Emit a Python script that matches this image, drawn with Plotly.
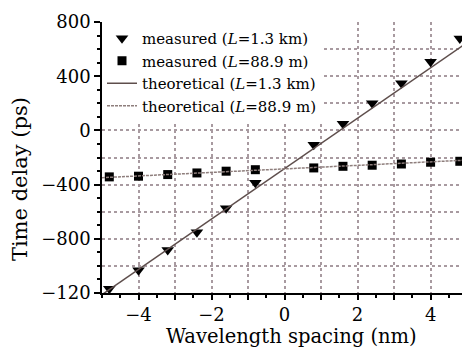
import plotly.graph_objects as go

# measured data
meas_x = [-4.8, -4.0, -3.2, -2.4, -1.6, -0.8, 0.8, 1.6, 2.4, 3.2, 4.0, 4.8]
meas_long = [-1169, -1033, -883, -751, -575, -387, -106, 49, 201, 348, 507, 679]
meas_short = [-343, -338, -326, -314, -301, -290, -277, -265, -257, -248, -235, -228]

# theoretical lines (end points)
theory_x = [-5.0, 5.0]
theory_long = [-1212, 648]
theory_short = [-349, -219]

y_tickvals = [-1200, -800, -400, 0, 400, 800]
y_ticktext = ["\u2212120", "\u2212800", "\u2212400", "0", "400", "800"]
y_gridvals = [-1000, -800, -600, -400, -200, 0, 200, 400, 600]
x_tickvals = [-4, -3, -2, -1, 0, 1, 2, 3, 4]
x_ticktext = ["\u22124", "", "\u22122", "", "0", "", "2", "", "4"]

x_title = "Wavelength spacing (nm)"
y_title = "Time delay (ps)"

FONT = "DejaVu Serif"
line_dark = "#5e4e4c"
line_light = "#8e7e7c"
grid_col = "#a89aa0"

fig = go.Figure()
fig.add_trace(go.Scatter(x=meas_x, y=meas_long, mode="markers",
                         name="measured (<i>L</i>=1.3 km)",
                         marker=dict(symbol="triangle-down", size=11, color="black"),
                         cliponaxis=False))
fig.add_trace(go.Scatter(x=meas_x, y=meas_short, mode="markers",
                         name="measured (<i>L</i>=88.9 m)",
                         marker=dict(symbol="square", size=9, color="black"),
                         cliponaxis=False))
fig.add_trace(go.Scatter(x=theory_x, y=theory_long, mode="lines",
                         name="theoretical (<i>L</i>=1.3 km)",
                         line=dict(color=line_dark, width=1.5)))
fig.add_trace(go.Scatter(x=theory_x, y=theory_short, mode="lines",
                         name="theoretical (<i>L</i>=88.9 m)",
                         line=dict(color=line_light, width=1.5, dash="3px,1px")))
# invisible trace to activate grid axis
fig.add_trace(go.Scatter(x=[None], y=[None], yaxis="y2", showlegend=False, hoverinfo="skip"))

fig.update_layout(
    width=462, height=350,
    margin=dict(l=102, r=0, t=22, b=57, autoexpand=False),
    paper_bgcolor="white", plot_bgcolor="white",
    font=dict(family=FONT, size=18, color="black"),
    showlegend=True,
    legend=dict(x=0, y=1.0, xanchor="left", yanchor="top",
                bgcolor="white", borderwidth=0,
                font=dict(family=FONT, size=15, color="black"),
                tracegroupgap=0, itemwidth=30),
    xaxis=dict(range=[-5, 4.86], tickmode="array", tickvals=x_tickvals, ticktext=x_ticktext,
               automargin=False,
               showgrid=True, gridcolor=grid_col, gridwidth=1.5, griddash="dot",
               zeroline=False, showline=True, linecolor="black", linewidth=1.5,
               ticks="outside", ticklen=5, tickwidth=1.5, tickcolor="black",
               minor=dict(dtick=0.5, tick0=0, ticks="outside", ticklen=3, tickwidth=1.5,
                          tickcolor="black", showgrid=False),
               tickfont=dict(size=18)),
    yaxis=dict(range=[-1200, 800], tickmode="array", tickvals=y_tickvals, ticktext=y_ticktext,
               automargin=False,
               showgrid=False, zeroline=False, showline=True, linecolor="black", linewidth=1.5,
               ticks="outside", ticklen=6, tickwidth=1.5, tickcolor="black",
               minor=dict(dtick=100, tick0=0, ticks="outside", ticklen=3, tickwidth=1.5,
                          tickcolor="black", showgrid=False),
               tickfont=dict(size=18)),
    yaxis2=dict(range=[-1200, 800], overlaying="y", side="left", tickmode="array",
                automargin=False,
                tickvals=y_gridvals, showticklabels=False, ticks="",
                showgrid=True, gridcolor=grid_col, gridwidth=1.5, griddash="dot",
                zeroline=False, showline=False),
    annotations=[
        dict(text=x_title, xref="paper", yref="paper", x=0.525, y=-0.16,
             xanchor="center", yanchor="middle", showarrow=False,
             font=dict(family=FONT, size=19.5, color="black")),
        dict(text=y_title, xref="paper", yref="paper", x=-0.228, y=0.42,
             xanchor="center", yanchor="middle", showarrow=False, textangle=-90,
             font=dict(family=FONT, size=21, color="black")),
    ],
)

fig.write_html("out.html", config={"displayModeBar": False},
               post_script="document.body.style.margin='0';document.body.style.overflow='hidden';")
